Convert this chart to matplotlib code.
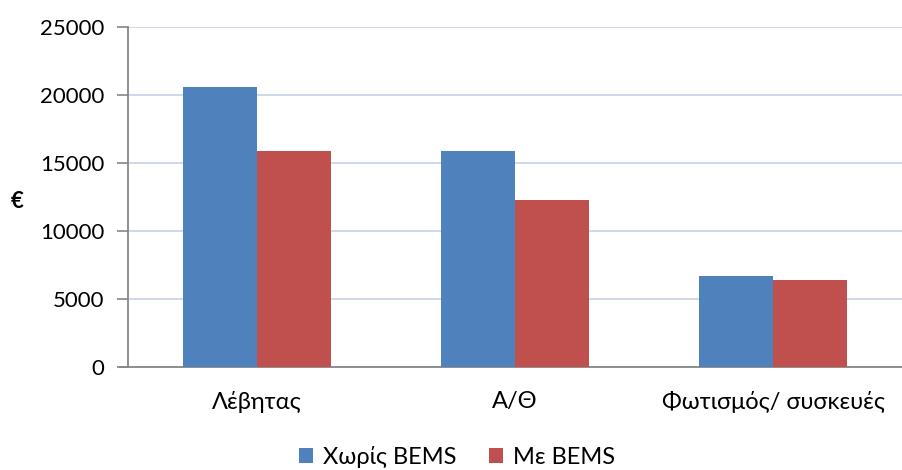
import matplotlib
matplotlib.use("Agg")
import matplotlib.pyplot as plt
import numpy as np
from matplotlib.patches import Patch

plt.rcParams['font.family'] = ['Lato', 'DejaVu Sans']

categories = ["Λέβητας", "Α/Θ", "Φωτισμός/ συσκευές"]
series_names = ["Χωρίς BEMS", "Με BEMS"]
without_bems = [20600, 15900, 6700]
with_bems = [15900, 12250, 6400]
y_ticks = [0, 5000, 10000, 15000, 20000, 25000]

blue = "#4F81BD"
red = "#C0504D"
axis_gray = "#868686"
grid_blue = "#C8D7EC"

fig = plt.figure(figsize=(9.02, 4.70), dpi=100)
ax = fig.add_axes([128 / 902, 1 - 367 / 470, 1 - 128 / 902, (367 - 26.7) / 470])

x = np.arange(len(categories))
w = 1 / 3.5
ax.bar(x - w / 2, without_bems, width=w, color=blue, edgecolor="none", zorder=3)
ax.bar(x + w / 2, with_bems, width=w, color=red, edgecolor="none", zorder=3)

ax.set_xlim(-0.5, len(categories) - 0.5)
ax.set_ylim(0, 25000)
ax.set_yticks(y_ticks)
ax.set_yticklabels([str(v) for v in y_ticks], fontsize=16)
ax.set_xticks(x)
ax.set_xticklabels(categories, fontsize=17)
ax.tick_params(axis='x', length=0, pad=17)
ax.tick_params(axis='y', length=8, width=1.2, color=axis_gray, pad=9)

ax.yaxis.grid(True, color=grid_blue, linewidth=1.3, zorder=0)
ax.set_axisbelow(True)
for s in ["top", "right"]:
    ax.spines[s].set_visible(False)
ax.spines["left"].set_color(axis_gray)
ax.spines["left"].set_linewidth(1.3)
ax.spines["bottom"].set_color(axis_gray)
ax.spines["bottom"].set_linewidth(1.3)
# extend the baseline to the left under the zero tick
ax.plot([-0.5 - 8 / 258.3, -0.5], [0, 0], color=axis_gray, lw=1.3,
        clip_on=False, transform=ax.transData, zorder=4)

fig.text(17 / 902, 1 - 201 / 470, "€", fontsize=16, fontweight="bold",
         ha="center", va="center")

handles = [Patch(facecolor=blue, edgecolor="none"), Patch(facecolor=red, edgecolor="none")]
fig.legend(handles, series_names, loc="center", bbox_to_anchor=(457 / 902, 1 - 457 / 470),
           ncol=2, frameon=False, fontsize=17, handlelength=0.6, handleheight=0.6,
           handletextpad=0.4, columnspacing=1.4)

fig.savefig("out.png", dpi=100)
